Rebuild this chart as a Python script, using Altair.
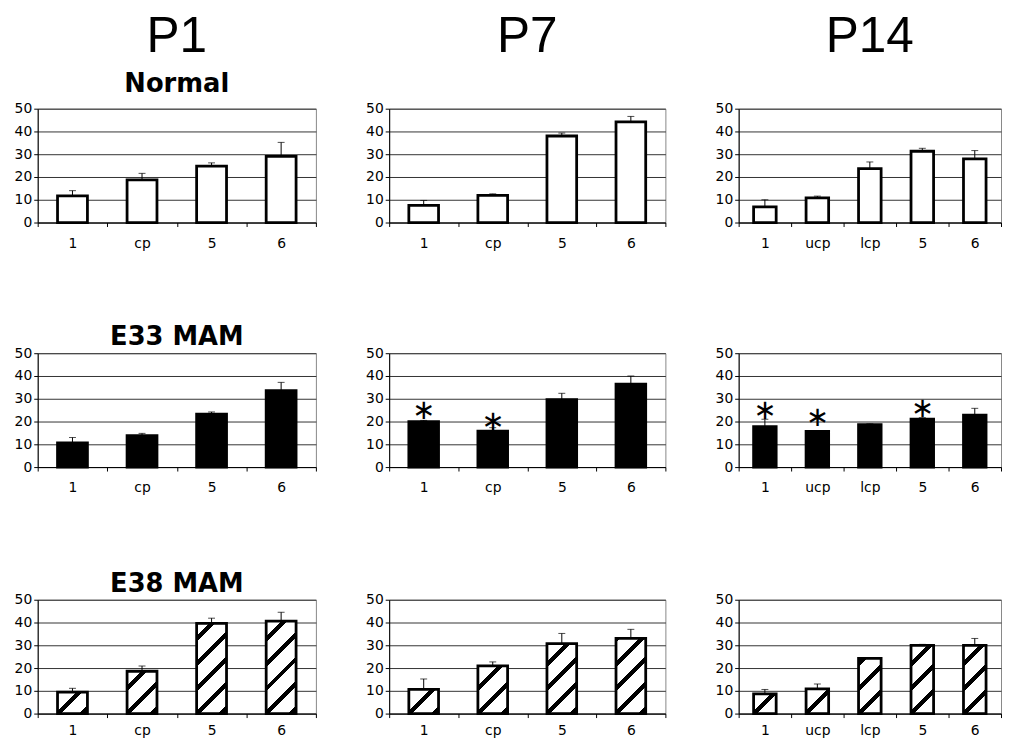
import math
import altair as alt

# ---------------- data ----------------
AGES = ["P1", "P7", "P14"]
GROUPS = ["Normal", "E33 MAM", "E38 MAM"]
CATS_4 = ["1", "cp", "5", "6"]
CATS_5 = ["1", "ucp", "lcp", "5", "6"]
Y_TICKS = [0, 10, 20, 30, 40, 50]

normal_p1_mean = [11.7, 18.7, 24.8, 29.1]
normal_p1_err = [2.3, 2.9, 1.4, 6.1]
normal_p7_mean = [7.5, 11.9, 38.0, 44.2]
normal_p7_err = [2.2, 0.7, 1.3, 2.4]
normal_p14_mean = [6.9, 10.8, 23.7, 31.3, 28.0]
normal_p14_err = [3.1, 0.8, 2.9, 1.3, 3.6]

e33_p1_mean = [10.6, 13.8, 23.2, 33.6]
e33_p1_err = [2.4, 1.0, 1.0, 3.6]
e33_p7_mean = [19.9, 15.8, 29.6, 36.4]
e33_p7_err = [0.6, 1.5, 2.8, 3.6]
e33_p7_star = [24.5, 19.7, None, None]
e33_p14_mean = [17.8, 15.7, 18.6, 21.0, 22.8]
e33_p14_err = [3.2, 0.1, 0.4, 0.7, 3.0]
e33_p14_star = [24.6, 21.5, None, 25.4, None]

e38_p1_mean = [9.4, 18.6, 39.6, 40.6]
e38_p1_err = [1.7, 2.3, 2.3, 3.9]
e38_p7_mean = [10.6, 21.0, 30.7, 33.0]
e38_p7_err = [4.6, 1.7, 4.5, 4.0]
e38_p14_mean = [8.7, 10.9, 24.2, 30.0, 30.0]
e38_p14_err = [1.9, 2.1, 0.0, 0.4, 3.0]

# ---------------- layout / style ----------------
PANEL_W = {"P1": 281, "P7": 279, "P14": 265}
PANEL_H = 115
BAR_FRAC = 0.43
NUM_FONT = "DejaVu Sans"


def hatch(mean, w, h_total=PANEL_H):
    """Diagonal stripe fill for one bar, as a linear gradient in bbox units."""
    h = max(mean * h_total / 50.0, 0.5)
    total = w + h
    period = 25.0
    thick = 6.0
    stops = [{"offset": 0, "color": "white"}]
    k_min = math.floor(-h / period) - 1
    k_max = math.ceil((total - h) / period) + 1
    for k in range(k_min, k_max + 1):
        c = h + k * period
        lo, hi = c - thick / 2, c + thick / 2
        if hi <= 0 or lo >= total:
            continue
        lo_t = max(lo, 0) / total
        hi_t = min(hi, total) / total
        stops += [
            {"offset": lo_t, "color": "white"},
            {"offset": lo_t, "color": "black"},
            {"offset": hi_t, "color": "black"},
            {"offset": hi_t, "color": "white"},
        ]
    stops.append({"offset": 1, "color": "white"})
    a = total / (w * w + h * h)
    return {"gradient": "linear", "x1": 0, "y1": 0, "x2": a * w, "y2": a * h,
            "stops": stops}


def title_for(age, group, row):
    if row == 0:
        return alt.TitleParams(
            text=age, subtitle=group if age == "P1" else " ",
            font="Liberation Sans", fontSize=50, fontWeight="normal", color="black",
            subtitleFont="DejaVu Sans", subtitleFontSize=26, subtitleFontWeight="bold",
            subtitleColor="black", subtitlePadding=9,
            anchor="middle", frame="group", offset=5)
    return alt.TitleParams(
        text=group if age == "P1" else " ",
        font="DejaVu Sans", fontSize=26, fontWeight="bold", color="black",
        anchor="middle", frame="group", offset=4, dy=8)


def panel(age, row, cats, means, errs, kind, stars=None, label_pad=10):
    w = PANEL_W[age]
    step = w / len(cats)
    bar_w = step * BAR_FRAC
    rows = []
    for i, c in enumerate(cats):
        if kind == "hatch":
            fill = hatch(means[i], bar_w)
        elif kind == "black":
            fill = "black"
        else:
            fill = "white"
        rows.append({"cat": c, "mean": means[i], "top": means[i] + errs[i],
                     "fill": fill, "star": stars[i] if stars else None})
    base = alt.Chart(alt.Data(values=rows))

    def xenc():
        return alt.X("cat:N", sort=cats,
                     scale=alt.Scale(paddingInner=0, paddingOuter=0),
                     axis=alt.Axis(title=None, labelAngle=0, labelFont=NUM_FONT,
                                   labelFontSize=14, labelColor="black",
                                   labelPadding=label_pad, tickSize=4,
                                   tickColor="black", tickBand="extent",
                                   domainColor="black", domainWidth=1, grid=False))

    def yenc(field):
        return alt.Y(field, scale=alt.Scale(domain=[0, 50], nice=False),
                     axis=alt.Axis(title=None, values=Y_TICKS, labelFont=NUM_FONT,
                                   labelFontSize=14, labelColor="black",
                                   labelPadding=2, tickSize=4, tickColor="black",
                                   domainColor="black", domainWidth=1,
                                   grid=True, gridColor="#333", gridWidth=1))

    bars = base.mark_bar(width=alt.RelativeBandSize(BAR_FRAC), stroke="black",
                         strokeWidth=2.8).encode(
        x=xenc(), y=yenc("mean:Q"), fill=alt.Fill("fill:N", scale=None))
    err = base.mark_rule(color="black", strokeWidth=1).encode(
        x=xenc(), y=yenc("mean:Q"), y2="top:Q")
    cap = base.mark_tick(color="black", thickness=1, size=7).encode(
        x=xenc(), y=yenc("top:Q"))
    layers = [err, cap, bars]
    if stars:
        star = base.transform_filter("isValid(datum.star)").mark_text(
            text="∗", font="DejaVu Sans", fontSize=28, color="black",
            baseline="middle", align="center").encode(x=xenc(), y=yenc("star:Q"))
        layers.append(star)
    return alt.layer(*layers).properties(
        width=w, height=PANEL_H, title=title_for(age, GROUPS[row], row))


row1 = alt.hconcat(
    panel("P1", 0, CATS_4, normal_p1_mean, normal_p1_err, "white"),
    panel("P7", 0, CATS_4, normal_p7_mean, normal_p7_err, "white"),
    panel("P14", 0, CATS_5, normal_p14_mean, normal_p14_err, "white"),
    spacing=48).resolve_scale(x="independent", y="independent")
row2 = alt.hconcat(
    panel("P1", 1, CATS_4, e33_p1_mean, e33_p1_err, "black"),
    panel("P7", 1, CATS_4, e33_p7_mean, e33_p7_err, "black", stars=e33_p7_star),
    panel("P14", 1, CATS_5, e33_p14_mean, e33_p14_err, "black", stars=e33_p14_star),
    spacing=48).resolve_scale(x="independent", y="independent")
row3 = alt.hconcat(
    panel("P1", 2, CATS_4, e38_p1_mean, e38_p1_err, "hatch", label_pad=6),
    panel("P7", 2, CATS_4, e38_p7_mean, e38_p7_err, "hatch", label_pad=6),
    panel("P14", 2, CATS_5, e38_p14_mean, e38_p14_err, "hatch", label_pad=6),
    spacing=48).resolve_scale(x="independent", y="independent")

top_rows = alt.vconcat(row1, row2, spacing=73).resolve_scale(
    x="independent", y="independent")

chart = alt.vconcat(top_rows, row3, spacing=75).resolve_scale(
    x="independent", y="independent").properties(
    padding={"left": 5, "top": 0, "right": 0, "bottom": 0},
    background="white").configure_view(stroke="#888", strokeWidth=1)

chart.save("out.html", embed_options={"renderer": "svg", "actions": False})
